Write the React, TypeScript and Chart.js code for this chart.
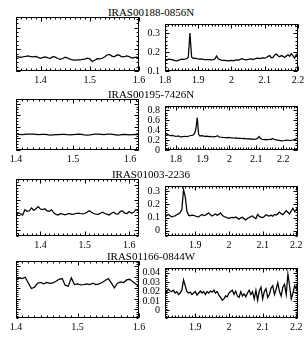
import React, { useEffect, useRef } from "react";
import { Chart, registerables } from "chart.js";
Chart.register(...registerables);

// ---------------- data ----------------
const STEP = 0.005; // wavelength sampling (micron)

const TITLES = ["IRAS00188-0856N", "IRAS00195-7426N", "IRAS01003-2236", "IRAS01166-0844W"];

const X_TICKS_LEFT = [1.4, 1.5, 1.6];
const X_TICKS_RIGHT = [1.8, 1.9, 2.0, 2.1, 2.2];

// Row 1 : IRAS00188-0856N
const R1_Y = [0.1, 0.35];
const R1_Y_TICKS = [0.1, 0.2, 0.3];
const R1L_X = [1.35, 1.6];
const R1L_START = 1.35;
const R1L_FLUX = [
  0.167, 0.165, 0.163, 0.166, 0.168, 0.170, 0.166, 0.165, 0.168, 0.163,
  0.159, 0.163, 0.165, 0.161, 0.159, 0.166, 0.164, 0.158, 0.154, 0.158,
  0.164, 0.160, 0.155, 0.151, 0.150, 0.152, 0.151, 0.154, 0.155, 0.159,
  0.156, 0.144, 0.150, 0.157, 0.156, 0.159, 0.165, 0.174, 0.177, 0.169,
  0.166, 0.174, 0.173, 0.165, 0.166, 0.170, 0.167, 0.160, 0.162, 0.164,
  0.162,
];
const R1R_X = [1.8, 2.2];
const R1R_START = 1.8;
const R1R_FLUX = [
  0.159, 0.160, 0.163, 0.162, 0.160, 0.158, 0.155, 0.154, 0.157, 0.160,
  0.163, 0.162, 0.163, 0.165, 0.172, 0.302, 0.175, 0.167, 0.168, 0.166,
  0.165, 0.163, 0.164, 0.162, 0.161, 0.160, 0.160, 0.161, 0.159, 0.160,
  0.164, 0.180, 0.165, 0.160, 0.158, 0.157, 0.156, 0.155, 0.154, 0.155,
  0.156, 0.155, 0.157, 0.159, 0.158, 0.160, 0.166, 0.163, 0.160, 0.159,
  0.162, 0.163, 0.164, 0.161, 0.165, 0.167, 0.168, 0.166, 0.168, 0.170,
  0.168, 0.172, 0.178, 0.182, 0.170, 0.172, 0.185, 0.190, 0.181, 0.176,
  0.182, 0.178, 0.172, 0.180, 0.186, 0.178, 0.192, 0.180, 0.168, 0.188,
  0.178,
];

// Row 2 : IRAS00195-7426N
const R2_Y = [0, 0.88];
const R2_Y_TICKS = [0, 0.2, 0.4, 0.6, 0.8];
const R2L_X = [1.4, 1.616];
const R2L_START = 1.4;
const R2L_FLUX = [
  0.272, 0.268, 0.265, 0.270, 0.274, 0.276, 0.272, 0.268, 0.265, 0.268,
  0.270, 0.266, 0.258, 0.262, 0.264, 0.266, 0.268, 0.270, 0.265, 0.262,
  0.266, 0.270, 0.272, 0.268, 0.260, 0.257, 0.262, 0.270, 0.276, 0.274,
  0.270, 0.266, 0.272, 0.274, 0.268, 0.262, 0.257, 0.264, 0.270, 0.266,
  0.262, 0.266, 0.270, 0.266,
];
const R2R_X = [1.76, 2.255];
const R2R_START = 1.76;
const R2R_FLUX = [
  0.290, 0.300, 0.305, 0.296, 0.290, 0.292, 0.288, 0.280, 0.272, 0.275,
  0.280, 0.268, 0.262, 0.266, 0.270, 0.272, 0.268, 0.274, 0.280, 0.290,
  0.294, 0.300, 0.330, 0.420, 0.650, 0.320, 0.280, 0.288, 0.284, 0.276,
  0.272, 0.275, 0.272, 0.268, 0.270, 0.265, 0.262, 0.266, 0.270, 0.285,
  0.265, 0.258, 0.255, 0.252, 0.250, 0.248, 0.245, 0.250, 0.246, 0.242,
  0.244, 0.240, 0.238, 0.242, 0.236, 0.232, 0.234, 0.230, 0.228, 0.232,
  0.226, 0.222, 0.225, 0.220, 0.224, 0.218, 0.214, 0.218, 0.222, 0.235,
  0.270, 0.232, 0.215, 0.210, 0.206, 0.212, 0.205, 0.210, 0.214, 0.210,
  0.232, 0.215, 0.208, 0.202, 0.196, 0.192, 0.188, 0.182, 0.185, 0.190,
  0.194, 0.198, 0.195, 0.190, 0.195, 0.200, 0.205, 0.215, 0.230, 0.225,
];

// Row 3 : IRAS01003-2236
const R3_Y = [-0.04, 0.34];
const R3_Y_TICKS = [0, 0.1, 0.2, 0.3];
const R3L_X = [1.345, 1.622];
const R3L_START = 1.345;
const R3L_FLUX = [
  0.092, 0.115, 0.108, 0.100, 0.135, 0.125, 0.128, 0.147, 0.130, 0.142,
  0.156, 0.140, 0.136, 0.142, 0.127, 0.125, 0.135, 0.115, 0.104, 0.100,
  0.110, 0.106, 0.101, 0.106, 0.110, 0.104, 0.106, 0.110, 0.113, 0.110,
  0.108, 0.110, 0.118, 0.128, 0.118, 0.110, 0.105, 0.104, 0.112, 0.119,
  0.110, 0.106, 0.100, 0.112, 0.119, 0.108, 0.106, 0.124, 0.127, 0.112,
  0.110, 0.123, 0.112, 0.118, 0.137, 0.128,
];
const R3R_X = [1.81, 2.205];
const R3R_START = 1.81;
const R3R_FLUX = [
  0.100, 0.118, 0.124, 0.114, 0.106, 0.110, 0.113, 0.122, 0.128, 0.138,
  0.160, 0.312, 0.262, 0.150, 0.118, 0.114, 0.119, 0.116, 0.112, 0.108,
  0.105, 0.115, 0.124, 0.116, 0.118, 0.128, 0.135, 0.122, 0.112, 0.120,
  0.128, 0.118, 0.124, 0.135, 0.118, 0.108, 0.104, 0.098, 0.095, 0.100,
  0.102, 0.098, 0.105, 0.096, 0.088, 0.098, 0.102, 0.090, 0.082, 0.095,
  0.100, 0.108, 0.112, 0.098, 0.092, 0.124, 0.110, 0.104, 0.100, 0.108,
  0.122, 0.115, 0.112, 0.118, 0.110, 0.124, 0.120, 0.128, 0.142, 0.130,
  0.122, 0.138, 0.152, 0.140, 0.128, 0.150, 0.171, 0.145, 0.160, 0.182,
];

// Row 4 : IRAS01166-0844W
const R4_Y = [-0.008, 0.045];
const R4_Y_TICKS = [0, 0.01, 0.02, 0.03, 0.04];
const R4L_X = [1.4, 1.6];
const R4L_START = 1.4;
const R4L_FLUX = [
  0.0277, 0.0293, 0.0287, 0.0299, 0.0246, 0.0194, 0.0206, 0.0243, 0.0250, 0.0237,
  0.0250, 0.0243, 0.0246, 0.0262, 0.0280, 0.0287, 0.0225, 0.0215, 0.0293, 0.0231,
  0.0237, 0.0228, 0.0231, 0.0237, 0.0231, 0.0243, 0.0231, 0.0237, 0.0250, 0.0268,
  0.0287, 0.0246, 0.0200, 0.0243, 0.0256, 0.0250, 0.0274, 0.0280, 0.0256, 0.0237,
  0.0215,
];
const R4R_X = [1.81, 2.205];
const R4R_START = 1.81;
const R4R_FLUX = [
  0.0215, 0.0200, 0.0225, 0.0206, 0.0200, 0.0215, 0.0185, 0.0200, 0.0169, 0.0185,
  0.0215, 0.0324, 0.0262, 0.0200, 0.0185, 0.0194, 0.0169, 0.0185, 0.0200, 0.0163,
  0.0185, 0.0206, 0.0185, 0.0200, 0.0169, 0.0200, 0.0185, 0.0206, 0.0194, 0.0215,
  0.0185, 0.0200, 0.0163, 0.0138, 0.0107, 0.0123, 0.0154, 0.0144, 0.0185, 0.0200,
  0.0215, 0.0169, 0.0206, 0.0154, 0.0138, 0.0200, 0.0154, 0.0175, 0.0144, 0.0185,
  0.0215, 0.0169, 0.0200, 0.0123, 0.0215, 0.0107, 0.0206, 0.0246, 0.0123, 0.0200,
  0.0231, 0.0138, 0.0169, 0.0237, 0.0262, 0.0169, 0.0225, 0.0293, 0.0200, 0.0154,
  0.0246, 0.0277, 0.0169, 0.0386, 0.0262, 0.0123, 0.0185, 0.0262, 0.0231, 0.0324,
  0.0370,
];

// ---------------- layout ----------------
const LEFT_BOX_X = [6, 139];
const RIGHT_BOX_X = [165, 298];
const ROW_BOX_Y = [
  [17, 71],
  [99, 150],
  [179, 236],
  [261, 318],
];
const TITLE_Y = [12, 94, 174, 256];

const FONT_FAMILY = "'Liberation Serif', 'DejaVu Serif', serif";
const M_L_LEFT = 10;
const M_L_RIGHT = 34;
const M_R = 10;
const M_T = 4;
const M_B = 16;

type PanelProps = {
  box: number[]; // left, top, right, bottom
  start: number;
  flux: number[];
  xRange: number[];
  yRange: number[];
  xTicks: number[];
  yTicks: number[];
  xMinor: number;
  yMinor: number;
  showY: boolean;
};

const fmt = (v: number) => String(parseFloat(Number(v).toFixed(4)));

function Panel(p: PanelProps) {
  const ref = useRef<HTMLCanvasElement | null>(null);
  const mL = p.showY ? M_L_RIGHT : M_L_LEFT;
  const w = p.box[2] - p.box[0] + mL + M_R;
  const h = p.box[3] - p.box[1] + M_T + M_B;

  useEffect(() => {
    const canvas = ref.current;
    if (!canvas) return;
    const [xMin, xMax] = p.xRange;
    const [yMin, yMax] = p.yRange;
    const pts = p.flux.map((v, i) => ({ x: p.start + i * STEP, y: v }));
    const inX = (t: number) => t >= xMin - 1e-9 && t <= xMax + 1e-9;
    const inY = (t: number) => t >= yMin - 1e-9 && t <= yMax + 1e-9;

    const frame = {
      id: "frame",
      afterDatasetsDraw(chart: any) {
        const { ctx, chartArea: a, scales } = chart;
        const xs = scales.x;
        const ys = scales.y;
        const L = Math.round(a.left) + 0.5;
        const R = Math.round(a.right) - 0.5;
        const T = Math.round(a.top) + 0.5;
        const B = Math.round(a.bottom) - 0.5;
        ctx.save();
        ctx.strokeStyle = "#000";
        ctx.lineWidth = 1;
        ctx.strokeRect(L, T, R - L, B - T);
        ctx.beginPath();
        const xTick = (val: number, len: number) => {
          const px = Math.round(xs.getPixelForValue(val)) + 0.5;
          ctx.moveTo(px, B);
          ctx.lineTo(px, B - len);
          ctx.moveTo(px, T);
          ctx.lineTo(px, T + len);
        };
        const yTick = (val: number, len: number) => {
          const py = Math.round(ys.getPixelForValue(val)) + 0.5;
          ctx.moveTo(L, py);
          ctx.lineTo(L + len, py);
          ctx.moveTo(R, py);
          ctx.lineTo(R - len, py);
        };
        for (let k = Math.ceil(xMin / p.xMinor - 1e-6); k * p.xMinor <= xMax + 1e-9; k++) {
          xTick(k * p.xMinor, 2);
        }
        for (let k = Math.ceil(yMin / p.yMinor - 1e-6); k * p.yMinor <= yMax + 1e-9; k++) {
          yTick(k * p.yMinor, 2);
        }
        p.xTicks.filter(inX).forEach((t) => xTick(t, 4));
        p.yTicks.filter(inY).forEach((t) => yTick(t, 4));
        ctx.stroke();
        ctx.restore();
      },
    };

    const font = { family: FONT_FAMILY, size: 10 };
    const chart = new Chart(canvas, {
      type: "line",
      data: {
        datasets: [
          {
            data: pts,
            borderColor: "#000",
            borderWidth: 1.25,
            pointRadius: 0,
            tension: 0,
            fill: false,
          },
        ],
      },
      options: {
        animation: false,
        responsive: false,
        devicePixelRatio: 1,
        events: [],
        parsing: false,
        normalized: true,
        layout: {
          padding: { left: p.showY ? 0 : mL, right: M_R, top: M_T, bottom: 0 },
        },
        plugins: {
          legend: { display: false },
          tooltip: { enabled: false },
          title: { display: false },
        },
        scales: {
          x: {
            type: "linear",
            min: xMin,
            max: xMax,
            grid: { display: false, drawTicks: false },
            border: { display: false },
            ticks: {
              font,
              color: "#000",
              padding: 3,
              maxRotation: 0,
              autoSkip: false,
              callback: (v: any) => fmt(v),
            },
            afterBuildTicks: (s: any) => {
              s.ticks = p.xTicks.filter(inX).map((v) => ({ value: v }));
            },
            afterFit: (s: any) => {
              s.height = M_B;
            },
          },
          y: {
            type: "linear",
            display: p.showY,
            position: "left",
            min: yMin,
            max: yMax,
            grid: { display: false, drawTicks: false },
            border: { display: false },
            ticks: {
              font,
              color: "#000",
              padding: 5,
              autoSkip: false,
              callback: (v: any) => fmt(v),
            },
            afterBuildTicks: (s: any) => {
              s.ticks = p.yTicks.filter(inY).map((v) => ({ value: v }));
            },
            afterFit: (s: any) => {
              s.width = mL;
            },
          },
        },
      } as any,
      plugins: [frame],
    });
    return () => chart.destroy();
  }, []);

  return (
    <canvas
      ref={ref}
      width={w}
      height={h}
      style={{
        position: "absolute",
        left: p.box[0] - mL,
        top: p.box[1] - M_T,
        width: w,
        height: h,
      }}
    />
  );
}

const ROWS = [
  {
    title: TITLES[0],
    y: R1_Y, yTicks: R1_Y_TICKS, yMinor: 0.02,
    left: { start: R1L_START, flux: R1L_FLUX, x: R1L_X },
    right: { start: R1R_START, flux: R1R_FLUX, x: R1R_X },
  },
  {
    title: TITLES[1],
    y: R2_Y, yTicks: R2_Y_TICKS, yMinor: 0.05,
    left: { start: R2L_START, flux: R2L_FLUX, x: R2L_X },
    right: { start: R2R_START, flux: R2R_FLUX, x: R2R_X },
  },
  {
    title: TITLES[2],
    y: R3_Y, yTicks: R3_Y_TICKS, yMinor: 0.02,
    left: { start: R3L_START, flux: R3L_FLUX, x: R3L_X },
    right: { start: R3R_START, flux: R3R_FLUX, x: R3R_X },
  },
  {
    title: TITLES[3],
    y: R4_Y, yTicks: R4_Y_TICKS, yMinor: 0.002,
    left: { start: R4L_START, flux: R4L_FLUX, x: R4L_X },
    right: { start: R4R_START, flux: R4R_FLUX, x: R4R_X },
  },
];

export default function App() {
  return (
    <div
      style={{
        position: "absolute",
        left: 0,
        top: 0,
        width: 305,
        height: 349,
        background: "#fff",
        overflow: "hidden",
      }}
    >
      {ROWS.map((r, i) => (
        <React.Fragment key={i}>
          <div
            style={{
              position: "absolute",
              left: 0,
              width: 302,
              top: TITLE_Y[i] - 7,
              height: 14,
              lineHeight: "14px",
              textAlign: "center",
              fontFamily: FONT_FAMILY,
              fontSize: 11,
              color: "#000",
              whiteSpace: "nowrap",
            }}
          >
            {r.title}
          </div>
          <Panel
            box={[LEFT_BOX_X[0], ROW_BOX_Y[i][0], LEFT_BOX_X[1], ROW_BOX_Y[i][1]]}
            start={r.left.start}
            flux={r.left.flux}
            xRange={r.left.x}
            yRange={r.y}
            xTicks={X_TICKS_LEFT}
            yTicks={r.yTicks}
            xMinor={0.01}
            yMinor={r.yMinor}
            showY={false}
          />
          <Panel
            box={[RIGHT_BOX_X[0], ROW_BOX_Y[i][0], RIGHT_BOX_X[1], ROW_BOX_Y[i][1]]}
            start={r.right.start}
            flux={r.right.flux}
            xRange={r.right.x}
            yRange={r.y}
            xTicks={X_TICKS_RIGHT}
            yTicks={r.yTicks}
            xMinor={0.01}
            yMinor={r.yMinor}
            showY={true}
          />
        </React.Fragment>
      ))}
    </div>
  );
}
